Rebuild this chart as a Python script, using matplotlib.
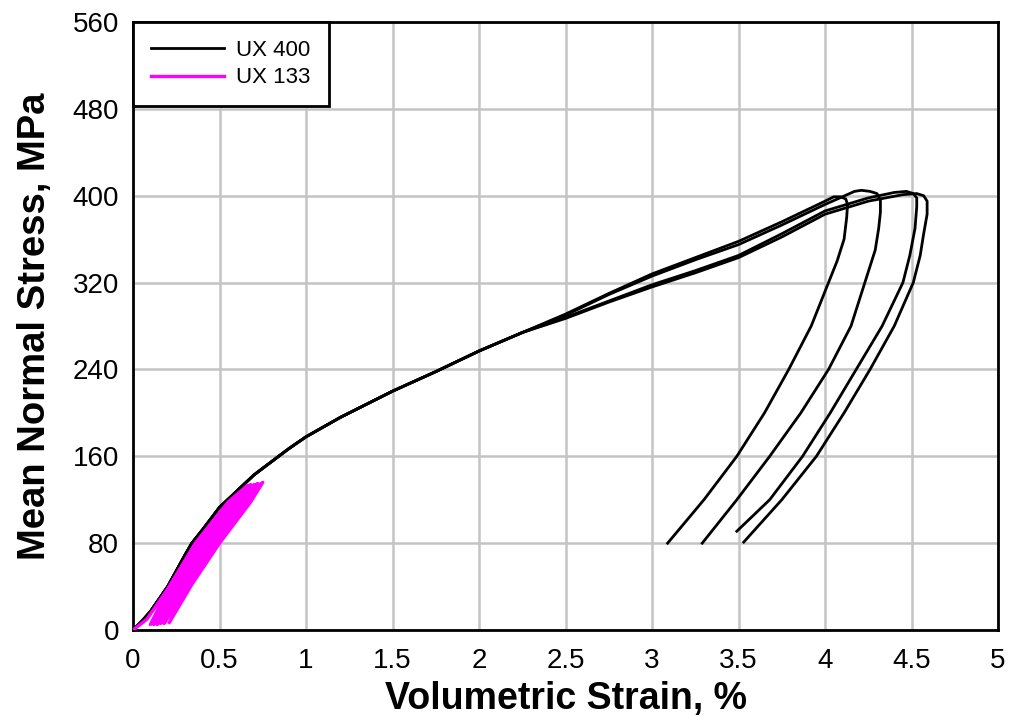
import matplotlib
matplotlib.use("Agg")
import matplotlib.pyplot as plt

plt.rcParams['font.family'] = ['Liberation Sans', 'DejaVu Sans']

# ---- data: UX 400 (four specimens, load to ~400 MPa then unload) ----
common_x = [0.0, 0.05, 0.1, 0.2, 0.3, 0.34, 0.4, 0.5, 0.6, 0.7, 0.8, 0.9, 1.0, 1.2, 1.5, 1.75, 2.0, 2.25]
common_y = [0, 8, 17, 40, 69, 80, 92, 113, 128, 143, 155, 167, 178, 196, 220, 238, 257, 274]

c1_x = [2.5, 2.75, 3.0, 3.25, 3.5, 3.75, 4.0, 4.05, 4.09, 4.12, 4.13, 4.125, 4.11, 4.07, 4.02, 3.92, 3.79, 3.65, 3.49, 3.30, 3.09]
c1_y = [291, 310, 328, 343, 358, 376, 395, 399, 399, 397, 392, 380, 360, 340, 320, 280, 240, 200, 160, 120, 80]

c2_x = [2.5, 2.75, 3.0, 3.25, 3.5, 3.75, 4.0, 4.1, 4.17, 4.21, 4.26, 4.30, 4.32, 4.32, 4.31, 4.29, 4.23, 4.15, 4.02, 3.86, 3.68, 3.49, 3.29]
c2_y = [290, 309, 326, 341, 355, 373, 392, 399, 404, 405, 404, 402, 396, 385, 370, 350, 320, 280, 240, 200, 160, 120, 80]

c3_x = [2.5, 2.75, 3.0, 3.25, 3.5, 3.75, 4.0, 4.25, 4.4, 4.47, 4.51, 4.53, 4.53, 4.52, 4.49, 4.45, 4.33, 4.18, 4.03, 3.87, 3.68, 3.49]
c3_y = [288, 303, 318, 331, 345, 365, 386, 398, 403, 404, 402, 398, 390, 370, 345, 320, 280, 240, 200, 160, 120, 91]

c4_x = [2.5, 2.75, 3.0, 3.25, 3.5, 3.75, 4.0, 4.25, 4.45, 4.53, 4.57, 4.59, 4.59, 4.57, 4.55, 4.51, 4.40, 4.26, 4.11, 3.95, 3.75, 3.53]
c4_y = [287, 302, 316, 329, 343, 362, 383, 395, 401, 402, 400, 395, 383, 365, 345, 320, 280, 240, 200, 160, 120, 81]

# ---- data: UX 133 (repeated load/unload cycles to ~135 MPa) ----
m_x = [0.0, 0.08, 0.21, 0.36, 0.55, 0.66,
       0.58, 0.42, 0.26, 0.10,
       0.21, 0.37, 0.56, 0.68,
       0.60, 0.44, 0.28, 0.12,
       0.23, 0.39, 0.58, 0.70,
       0.62, 0.46, 0.30, 0.14,
       0.25, 0.41, 0.60, 0.72,
       0.64, 0.48, 0.32, 0.16,
       0.27, 0.43, 0.62, 0.74,
       0.66, 0.49, 0.33, 0.18,
       0.29, 0.45, 0.64, 0.75,
       0.68, 0.50, 0.34, 0.21]
m_y = [0, 10, 40, 80, 118, 133,
       116, 80, 42, 5,
       40, 80, 118, 134,
       118, 80, 42, 5,
       40, 80, 118, 134,
       118, 80, 42, 5,
       40, 80, 118, 135,
       118, 80, 42, 6,
       40, 80, 118, 135,
       118, 80, 42, 6,
       40, 80, 118, 136,
       118, 80, 42, 7]

x_ticks = [0, 0.5, 1, 1.5, 2, 2.5, 3, 3.5, 4, 4.5, 5]
x_labels = ['0', '0.5', '1', '1.5', '2', '2.5', '3', '3.5', '4', '4.5', '5']
y_ticks = [0, 80, 160, 240, 320, 400, 480, 560]

fig = plt.figure(figsize=(10.11, 7.17), dpi=100)
ax = fig.add_axes([0.1316, 0.1213, 0.8556, 0.848])

curves = [(c1_x, c1_y), (c2_x, c2_y), (c3_x, c3_y), (c4_x, c4_y)]
for i, (cx, cy) in enumerate(curves):
    ax.plot(common_x + cx, common_y + cy, color='black', lw=2.0,
            label='UX 400' if i == 0 else None, zorder=3,
            solid_joinstyle='round')
ax.plot(m_x, m_y, color='#ff00ff', lw=2.4, label='UX 133', zorder=4,
        solid_joinstyle='round')

ax.set_xlim(0, 5)
ax.set_ylim(0, 560)
ax.set_xticks(x_ticks)
ax.set_xticklabels(x_labels)
ax.set_yticks(y_ticks)
ax.grid(True, color='#c4c4c4', lw=1.8)
ax.set_axisbelow(True)
ax.tick_params(length=0, labelsize=20, colors='black')
ax.tick_params(axis='x', pad=13)
ax.tick_params(axis='y', pad=10)
for s in ax.spines.values():
    s.set_linewidth(2.0)
    s.set_color('black')

ax.set_xlabel('Volumetric Strain, %', fontsize=27, fontweight='bold', labelpad=5)
ax.set_ylabel('Mean Normal Stress, MPa', fontsize=27.5, fontweight='bold', labelpad=14)

leg = ax.legend(loc='upper left', borderaxespad=0, fancybox=False, framealpha=1,
                edgecolor='black', fontsize=16, handlelength=3.3, borderpad=0.8,
                labelspacing=0.3, handletextpad=0.55)
leg.get_frame().set_linewidth(2.0)

fig.savefig('out.png', dpi=100)
